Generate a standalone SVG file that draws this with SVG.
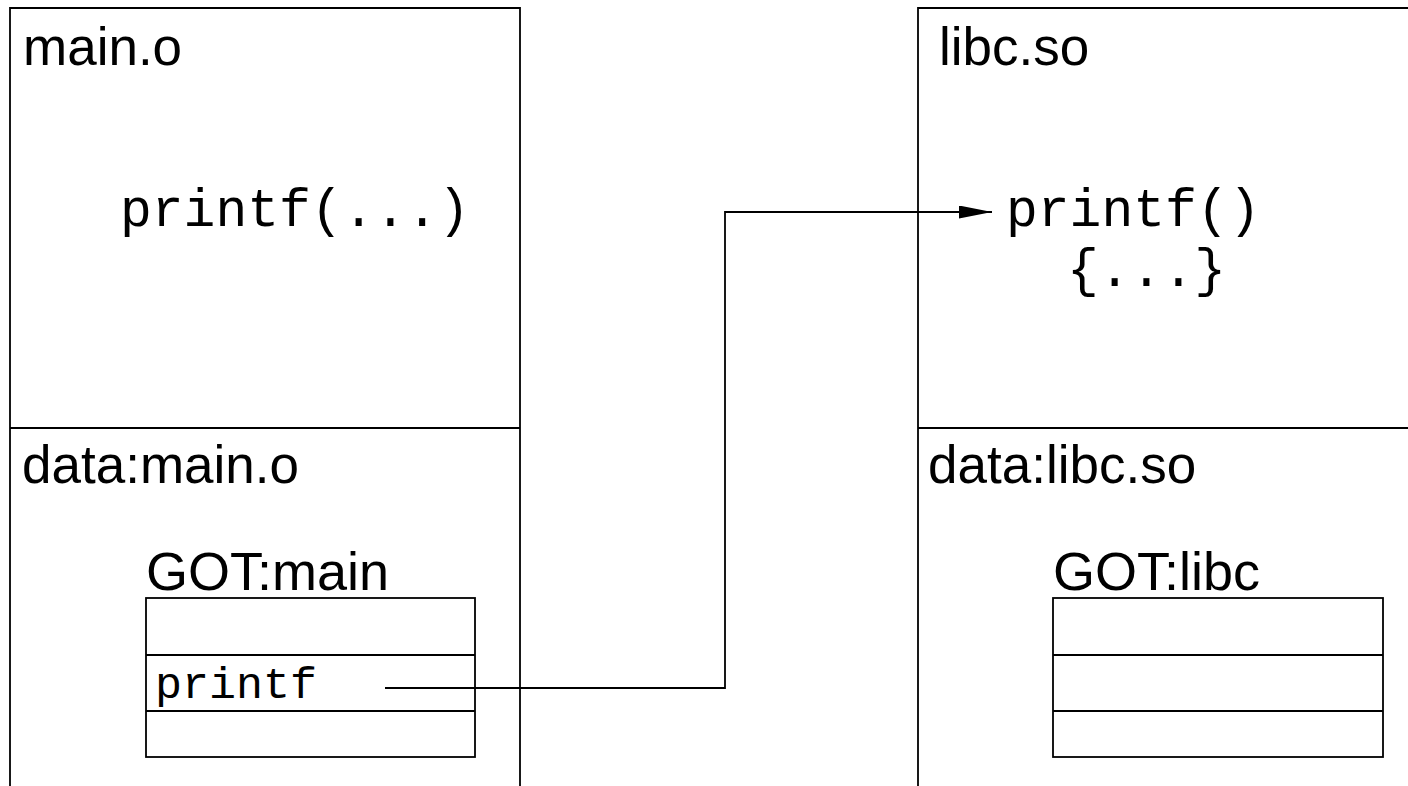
<svg xmlns="http://www.w3.org/2000/svg" width="1408" height="786" viewBox="0 0 1408 786">
  <style>
    .frame { fill: none; stroke: #000; stroke-width: 1.8; }
    .label { font-family: "Liberation Sans", Arial, sans-serif; font-size: 53px; fill: #000; }
    .got-title { font-family: "Liberation Sans", Arial, sans-serif; font-size: 54px; fill: #000; }
    .code { font-family: "Liberation Mono", "Courier New", monospace; font-size: 53px; fill: #000; }
    .slot { font-family: "Liberation Mono", "Courier New", monospace; font-size: 45px; fill: #000; }
    .wire { fill: none; stroke: #000; stroke-width: 1.8; }
  </style>
  <defs>
    <marker id="arrow" markerUnits="userSpaceOnUse" markerWidth="34" markerHeight="14" refX="33" refY="6.5" orient="auto">
      <path d="M0,0 L33,6.5 L0,13 Z" fill="#000"/>
    </marker>
  </defs>
  <rect width="1408" height="786" fill="#fff"/>

  <!-- object file main.o: text and data sections -->
  <g id="main-o">
    <path class="frame" d="M10,786 V8 H520 V786"/>
    <line class="frame" x1="10" y1="428" x2="520" y2="428"/>
    <text class="label" x="23" y="65">main.o</text>
    <text class="code" x="120" y="226">printf(...)</text>
    <text class="label" x="22" y="483">data:main.o</text>
  </g>

  <!-- GOT of main.o -->
  <g id="got-main">
    <text class="got-title" x="146" y="590">GOT:main</text>
    <rect class="frame" x="146" y="598" width="329" height="159"/>
    <line class="frame" x1="146" y1="655" x2="475" y2="655"/>
    <line class="frame" x1="146" y1="711" x2="475" y2="711"/>
    <text class="slot" x="155" y="698">printf</text>
  </g>

  <!-- shared library libc.so: text and data sections -->
  <g id="libc-so">
    <path class="frame" d="M918,786 V8 H1408"/>
    <line class="frame" x1="918" y1="428" x2="1408" y2="428"/>
    <text class="label" x="939" y="65">libc.so</text>
    <text class="code" x="1006" y="226">printf()</text>
    <text class="code" x="1067" y="286">{...}</text>
    <text class="label" x="928" y="483">data:libc.so</text>
  </g>

  <!-- GOT of libc.so -->
  <g id="got-libc">
    <text class="got-title" x="1053" y="590">GOT:libc</text>
    <rect class="frame" x="1053" y="598" width="330" height="159"/>
    <line class="frame" x1="1053" y1="655" x2="1383" y2="655"/>
    <line class="frame" x1="1053" y1="711" x2="1383" y2="711"/>
  </g>

  <!-- GOT slot resolves to printf in libc.so -->
  <g id="connectors">
    <path class="wire" d="M385,688 H725 V212 H992" marker-end="url(#arrow)"/>
  </g>
</svg>
